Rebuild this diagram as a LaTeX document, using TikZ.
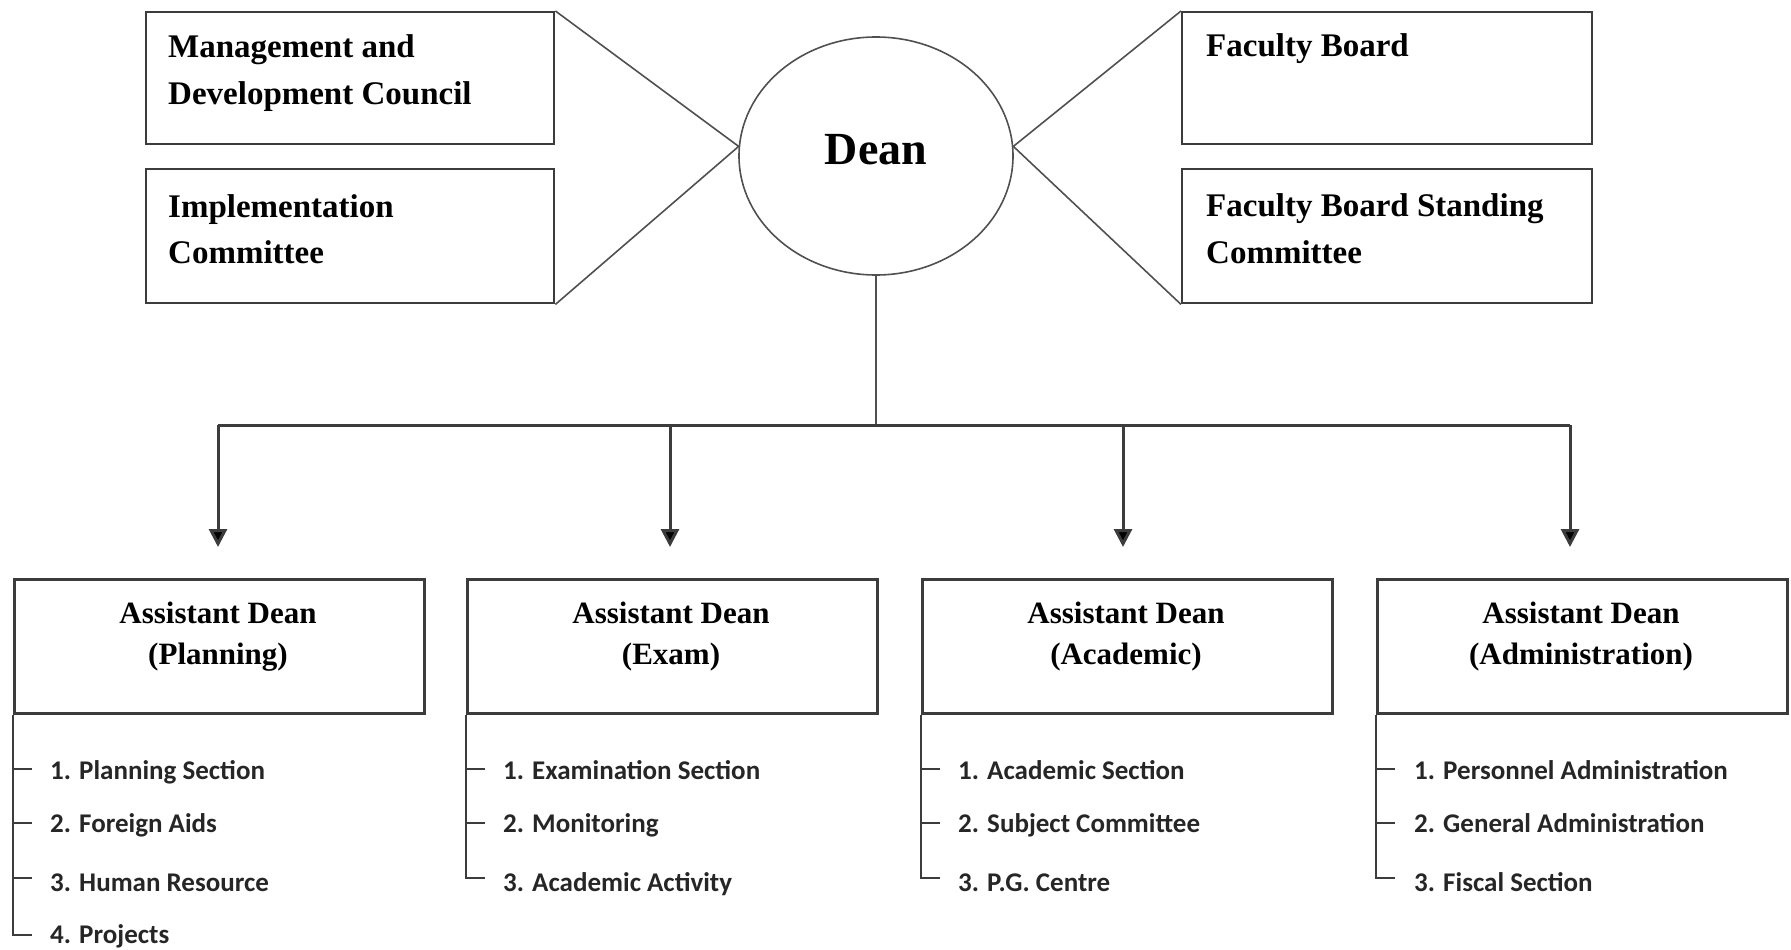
\documentclass[tikz,border=0pt]{standalone}
\usepackage{fontspec}
\setmainfont{Liberation Serif}
\newfontfamily\listfont{Carlito}
\usetikzlibrary{arrows.meta,shapes.geometric}
\definecolor{edgegray}{HTML}{3C3C3C}
\definecolor{thingray}{HTML}{505050}
\begin{document}
\begin{tikzpicture}[x=1pt,y=-1pt,
  topbox/.style={draw=edgegray, line width=2.4pt, minimum width=408pt, minimum height=132pt, inner sep=0pt, anchor=north west},
  botbox/.style={draw=edgegray, line width=2.6pt, minimum width=410pt, minimum height=134pt, inner sep=0pt, anchor=north west},
  toptext/.style={anchor=base west, inner sep=0pt, font=\fontsize{33}{33}\selectfont\bfseries},
  bottext/.style={anchor=base, inner sep=0pt, font=\fontsize{31}{31}\selectfont\bfseries},
  deannode/.style={ellipse, draw=thingray, line width=1.6pt, minimum width=274pt, minimum height=238pt, inner sep=0pt, text height=31pt, text depth=14pt, font=\fontsize{46}{46}\selectfont\bfseries},
  thinline/.style={draw=thingray, line width=1.6pt},
  busline/.style={draw=edgegray, line width=3pt},
  arrowline/.style={draw=edgegray, line width=3pt, -{Triangle[width=18pt,length=18pt,fill=black]}},
  listline/.style={draw=edgegray, line width=2.2pt},
  itemtext/.style={anchor=base west, inner sep=0pt, font=\fontsize{27}{27}\selectfont\listfont\bfseries, text=black!85}
]
\useasboundingbox (0,0) rectangle (1791,950);

% top boxes
\node[topbox] (mdc) at (145,11) {};
\node[topbox, minimum height=134pt] (imp) at (145,168) {};
\node[topbox, minimum width=410pt] (fb) at (1181,11) {};
\node[topbox, minimum width=410pt, minimum height=134pt] (fbs) at (1181,168) {};

\node[toptext] (mdcA) at (168,58) {Management and};
\node[toptext] (mdcB) at (168,104) {Development Council};
\node[toptext] (impA) at (168,217) {Implementation};
\node[toptext] (impB) at (168,263) {Committee};
\node[toptext] (fbA) at (1206,57) {Faculty Board};
\node[toptext] (fbsA) at (1206,216) {Faculty Board Standing};
\node[toptext] (fbsB) at (1206,263) {Committee};

% dean
\node[deannode] (dean) at (876,156) {Dean};

\draw[thinline] (mdc.north east) -- (dean.176) -- (imp.south east);
\draw[thinline] (fb.north west) -- (dean.4) -- (fbs.south west);

% bus
\coordinate (bus) at (876,425);
\coordinate (j1) at (218,425);
\coordinate (j2) at (670,425);
\coordinate (j3) at (1123,425);
\coordinate (j4) at (1570,425);
\coordinate (t1) at (218,547);
\coordinate (t2) at (670,547);
\coordinate (t3) at (1123,547);
\coordinate (t4) at (1570,547);
\draw[thinline] (dean.south) -- (bus);
\draw[busline] (j1) -- (j4);
\draw[arrowline] (j1) -- (t1);
\draw[arrowline] (j2) -- (t2);
\draw[arrowline] (j3) -- (t3);
\draw[arrowline] (j4) -- (t4);

% bottom boxes
\node[botbox] (ad1) at (13,578) {};
\node[botbox] (ad2) at (466,578) {};
\node[botbox] (ad3) at (921,578) {};
\node[botbox] (ad4) at (1376,578) {};

\node[bottext] (ad1a) at (218,623) {Assistant Dean};
\node[bottext] (ad1b) at (218,664) {(Planning)};
\node[bottext] (ad2a) at (671,623) {Assistant Dean};
\node[bottext] (ad2b) at (671,664) {(Exam)};
\node[bottext] (ad3a) at (1126,623) {Assistant Dean};
\node[bottext] (ad3b) at (1126,664) {(Academic)};
\node[bottext] (ad4a) at (1581,623) {Assistant Dean};
\node[bottext] (ad4b) at (1581,664) {(Administration)};

% list 1
\coordinate (k14) at (13,935);
\draw[listline] (ad1.south west) -- (k14) -- ++(19,0);
\draw[listline] (13,769) -- ++(19,0);
\draw[listline] (13,823) -- ++(19,0);
\draw[listline] (13,878) -- ++(19,0);
\node[itemtext] (i11) at (50,779) {1. Planning Section};
\node[itemtext] (i12) at (50,832) {2. Foreign Aids};
\node[itemtext] (i13) at (50,891) {3. Human Resource};
\node[itemtext] (i14) at (50,943) {4. Projects};

% list 2
\coordinate (k23) at (466,878);
\draw[listline] (ad2.south west) -- (k23) -- ++(19,0);
\draw[listline] (466,769) -- ++(19,0);
\draw[listline] (466,823) -- ++(19,0);
\node[itemtext] (i21) at (503,779) {1. Examination Section};
\node[itemtext] (i22) at (503,832) {2. Monitoring};
\node[itemtext] (i23) at (503,891) {3. Academic Activity};

% list 3
\coordinate (k33) at (921,878);
\draw[listline] (ad3.south west) -- (k33) -- ++(19,0);
\draw[listline] (921,769) -- ++(19,0);
\draw[listline] (921,823) -- ++(19,0);
\node[itemtext] (i31) at (958,779) {1. Academic Section};
\node[itemtext] (i32) at (958,832) {2. Subject Committee};
\node[itemtext] (i33) at (958,891) {3. P.G. Centre};

% list 4
\coordinate (k43) at (1376,878);
\draw[listline] (ad4.south west) -- (k43) -- ++(19,0);
\draw[listline] (1376,769) -- ++(19,0);
\draw[listline] (1376,823) -- ++(19,0);
\node[itemtext] (i41) at (1414,779) {1. Personnel Administration};
\node[itemtext] (i42) at (1414,832) {2. General Administration};
\node[itemtext] (i43) at (1414,891) {3. Fiscal Section};
\end{tikzpicture}
\end{document}
